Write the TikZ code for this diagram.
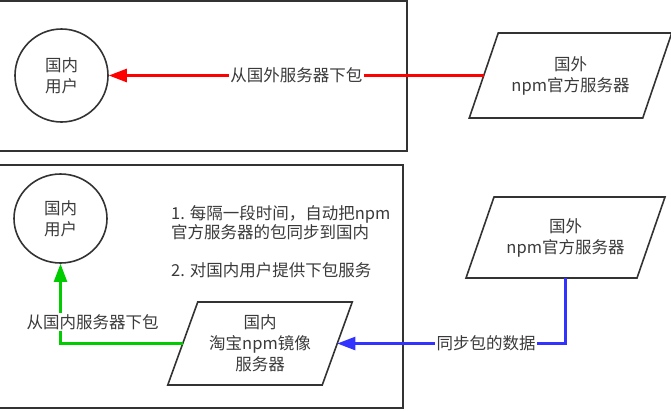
\documentclass[tikz,border=0pt]{standalone}
\usepackage{fontspec}
\setmainfont{Noto Sans CJK SC}
\usetikzlibrary{arrows.meta,shapes.geometric,calc}
\definecolor{inkgray}{HTML}{333333}
\definecolor{txtgray}{HTML}{3A3A3A}
\definecolor{flowred}{HTML}{FF0000}
\definecolor{flowgreen}{HTML}{00CC00}
\definecolor{flowblue}{HTML}{3333FF}
\newcommand{\slantbox}[2]{\draw[serveredge] ($(#1.north west)+(#2,0)$) -- ($(#1.north east)+(#2,0)$) -- ($(#1.south east)-(#2,0)$) -- ($(#1.south west)-(#2,0)$) -- cycle;}

\begin{document}
\begin{tikzpicture}[x=1pt,y=-1pt,
	every node/.style={text=txtgray,font=\fontsize{16.5}{21}\selectfont},
	frame/.style={draw=inkgray,line width=1.8pt},
	user/.style={draw=inkgray,line width=1.6pt,ellipse,align=center,inner sep=0pt},
	server/.style={rectangle,align=center,inner sep=0pt,outer sep=0pt},
	serveredge/.style={draw=inkgray,line width=1.6pt,line join=miter},
	flow/.style={line width=2.3pt,-{Triangle[length=18pt,width=13pt]}},
	flowlabel/.style={fill=white,inner sep=1.5pt}]
	\useasboundingbox (0,0) rectangle (671,410);
	\draw[frame] (-4,1) rectangle (407,151);
	\draw[frame] (-4,165) rectangle (403,408);
	\node[user,minimum width=93pt,minimum height=93pt] (userA) at (61.5,75.5) {国内\\用户};
	\node[server,minimum width=173.5pt,minimum height=85pt] (npmA) at (570.5,75.5) {国外\\npm官方服务器};
	\slantbox{npmA}{14.5}
	\draw[flow,flowred,line width=2.6pt] (npmA.west) -- (userA.east) node[flowlabel,midway] (dlA) {从国外服务器下包};
	\node[user,minimum width=93pt,minimum height=89pt] (userB) at (60.5,218.5) {国内\\用户};
	\node[server,minimum width=171pt,minimum height=81pt] (npmB) at (565.5,237.5) {国外\\npm官方服务器};
	\slantbox{npmB}{14}
	\node[server,minimum width=154.5pt,minimum height=83pt] (mirror) at (260,343.5) {国内\\淘宝npm镜像\\服务器};
	\slantbox{mirror}{15}
	\node[anchor=west,align=left,inner sep=0pt,font=\fontsize{16.5}{19}\selectfont] (steps) at (171,241.5) {1. 每隔一段时间，自动把npm\\官方服务器的包同步到国内\\[19pt]2. 对国内用户提供下包服务};
	\draw[flow,flowblue] (npmB.south) |- (mirror.east) node[flowlabel,pos=0.674] (syncB) {同步包的数据};
	\draw[flow,flowgreen] (mirror.west) -| (userB.south) node[flowlabel,pos=0.633,xshift=32pt] (dlB) {从国内服务器下包};
\end{tikzpicture}
\end{document}
